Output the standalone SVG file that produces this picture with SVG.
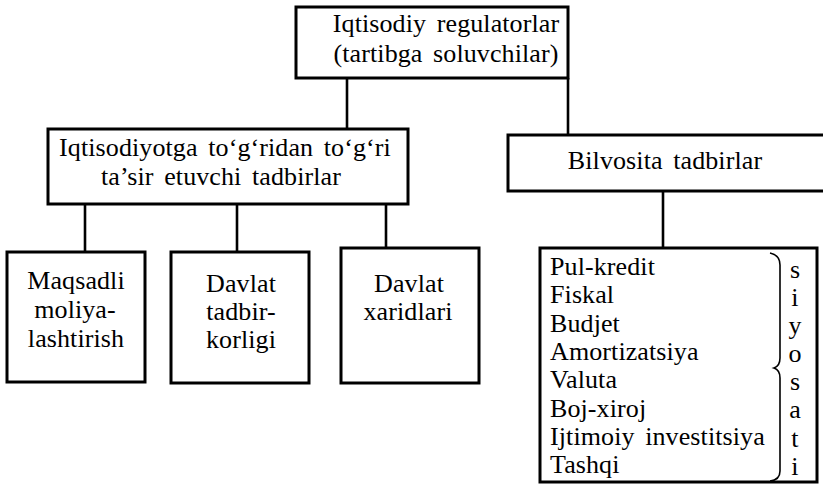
<svg xmlns="http://www.w3.org/2000/svg" width="823" height="496" viewBox="0 0 823 496">
<style>
  .box{fill:#fff;stroke:#000;stroke-width:3}
  .con line{stroke:#000;stroke-width:2.6}
  text{font-family:"Liberation Serif","Times New Roman",serif;font-size:26px;fill:#000;letter-spacing:0.1px;word-spacing:4px}
  .c{text-anchor:middle}
  .brace{fill:none;stroke:#000;stroke-width:1.6}
</style>
<rect width="823" height="496" fill="#fff"/>
<g id="connectors" class="con">
  <line x1="347" y1="78" x2="347" y2="129"/>
  <line x1="568" y1="78" x2="568" y2="135"/>
  <line x1="663" y1="191" x2="663" y2="248"/>
  <line x1="85" y1="204" x2="85" y2="252"/>
  <line x1="237" y1="204" x2="237" y2="252"/>
  <line x1="386" y1="204" x2="386" y2="248"/>
</g>
<g id="root">
  <rect class="box" x="296" y="7" width="272" height="71"/>
  <text class="c" x="446" y="32">Iqtisodiy regulatorlar</text>
  <text class="c" x="446" y="62">(tartibga soluvchilar)</text>
</g>
<g id="direct">
  <rect class="box" x="48" y="129" width="360" height="75"/>
  <text class="c" x="225" y="156">Iqtisodiyotga to‘g‘ridan to‘g‘ri</text>
  <text class="c" x="221" y="185">ta’sir etuvchi tadbirlar</text>
</g>
<g id="indirect">
  <rect class="box" x="508" y="135" width="330" height="56"/>
  <text class="c" x="665" y="169">Bilvosita tadbirlar</text>
</g>
<g id="maqsadli">
  <rect class="box" x="7" y="252" width="138" height="130"/>
  <text class="c" x="76" y="289">Maqsadli</text>
  <text class="c" x="75" y="318">moliya-</text>
  <text class="c" x="76" y="347">lashtirish</text>
</g>
<g id="tadbirkorligi">
  <rect class="box" x="171" y="252" width="138" height="131"/>
  <text class="c" x="241" y="292">Davlat</text>
  <text class="c" x="241" y="320">tadbir-</text>
  <text class="c" x="241" y="348">korligi</text>
</g>
<g id="xaridlari">
  <rect class="box" x="341" y="248" width="138" height="135"/>
  <text class="c" x="409" y="292">Davlat</text>
  <text class="c" x="408" y="320">xaridlari</text>
</g>
<g id="siyosati">
  <rect class="box" x="540" y="248" width="277" height="234"/>
  <text x="550" y="275">Pul-kredit</text>
  <text x="550" y="303">Fiskal</text>
  <text x="550" y="332">Budjet</text>
  <text x="550" y="360">Amortizatsiya</text>
  <text x="550" y="388">Valuta</text>
  <text x="550" y="417">Boj-xiroj</text>
  <text x="550" y="445">Ijtimoiy investitsiya</text>
  <text x="550" y="473">Tashqi</text>
  <path class="brace" d="M770 253 Q780 255 780 265 L780 358 Q780 366 774 368 Q780 370 780 378 L780 471 Q780 480 770 481"/>
  <text class="c" x="795" y="278">s</text>
  <text class="c" x="795" y="306">i</text>
  <text class="c" x="795" y="334">y</text>
  <text class="c" x="795" y="362">o</text>
  <text class="c" x="795" y="390">s</text>
  <text class="c" x="795" y="418">a</text>
  <text class="c" x="795" y="447">t</text>
  <text class="c" x="795" y="475">i</text>
</g>
</svg>
